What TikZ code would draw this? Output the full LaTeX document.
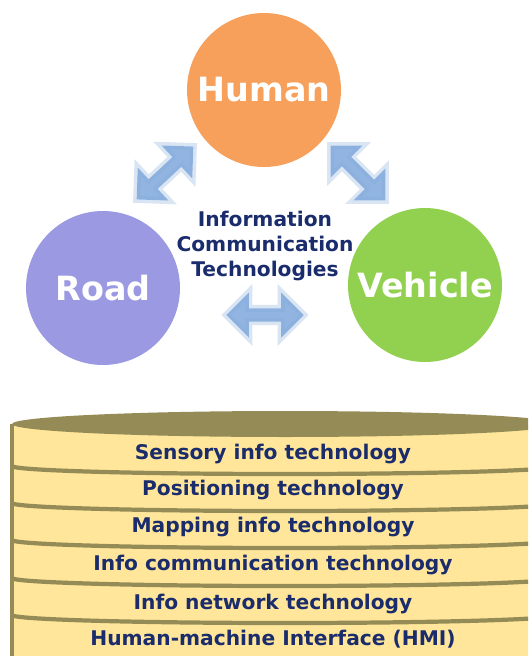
\documentclass[tikz,border=0pt]{standalone}
\usepackage{fontspec}
\setsansfont{DejaVu Sans}
\usepackage{tikz}
\usetikzlibrary{shapes.arrows}
\usetikzlibrary{positioning}
\definecolor{humanc}{HTML}{F7A05B}
\definecolor{roadc}{HTML}{9A99E2}
\definecolor{vehc}{HTML}{92D050}
\definecolor{arrc}{HTML}{86ACDD}
\definecolor{navyc}{HTML}{1A2C6B}
\definecolor{cylfill}{HTML}{FFE69A}
\definecolor{cylline}{HTML}{958B56}
\tikzset{
  bignode/.style = {circle, inner sep=0pt, minimum size=3.08cm, text=white,
    font=\sffamily\bfseries\fontsize{19}{22}\selectfont},% les trois cercles
  linkarrow/.style = {double arrow, fill=arrc, fill opacity=0.9,
    draw=arrc, draw opacity=0.3, line width=4pt, inner sep=0pt,
    minimum width=0.9cm, minimum height=1.55cm,
    double arrow head extend=0.17cm, double arrow tip angle=90},% fleches
  layertxt/.style = {anchor=base, text=navyc,
    font=\sffamily\bfseries\fontsize{11.5}{14}\selectfont},% couches
  sepline/.style = {draw=cylline, line width=2.4pt}
}
\begin{document}
\begin{tikzpicture}[x=0.02cm,y=-0.02cm]
\useasboundingbox (0,0) rectangle (528,656);
\clip (0,0) rectangle (528,656);
\fill[white] (0,0) rectangle (528,656);
% cercles
\node [bignode, fill=humanc] (human) at (264,90) {Human};
\node [bignode, fill=roadc] (road) at (103,288) {Road};
\node [bignode, fill=vehc] (vehicle) at (425,285) {Vehicle};
\node [align=center, text=navyc, inner sep=0pt,
  font=\sffamily\bfseries\fontsize{11.5}{14.2}\selectfont]
  (ict) at (265,246) {Information\\Communication\\Technologies};
% fleches
\node [linkarrow, rotate=43] (arrhr) at (165,173) {};
\node [linkarrow, rotate=-45] (arrhv) at (358,173) {};
\node [linkarrow] (arrrv) at (265,315) {};
% cylindre
\fill[cylfill] (12,424) rectangle (560,660);
\draw[cylline, line width=2.8pt] (12,424) -- (12,660);
\fill[cylline] (285,424) ellipse [x radius=5.46cm, y radius=0.26cm];
\foreach \c in {474,511,548,586,623}
  \draw[sepline] (12,\c-8) arc [start angle=180, end angle=360,
    x radius=5.46cm, y radius=0.16cm];
\node [layertxt] (l1) at (273,459.5) {Sensory info technology};
\node [layertxt] (l2) at (273,495.5) {Positioning technology};
\node [layertxt] (l3) at (273,532.5) {Mapping info technology};
\node [layertxt] (l4) at (273,570.5) {Info communication technology};
\node [layertxt] (l5) at (273,609.5) {Info network technology};
\node [layertxt] (l6) at (273,645.5) {Human-machine Interface (HMI)};
\end{tikzpicture}
\end{document}
